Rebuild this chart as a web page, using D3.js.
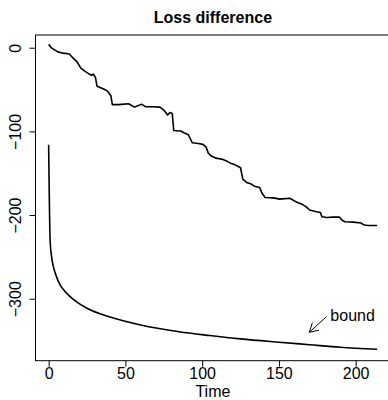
<!DOCTYPE html>
<html>
<head>
<meta charset="utf-8">
<script src="https://cdn.jsdelivr.net/npm/d3@7"></script>
<style>
body { margin: 0; background: #fff; }
svg { display: block; }
text { font-family: "Liberation Sans", Arial, sans-serif; }
</style>
</head>
<body>
<svg id="chart" width="388" height="400"></svg>
<script>
/*global d3*/

// values
var lossTime = [0, 2, 6, 9.5, 13.5, 16, 18.5, 21, 23.5, 26.5, 28, 29, 30.5, 31.5, 35.5, 38, 40.5, 41.5, 45.5, 52, 56, 60.5, 63, 68, 72.5, 75, 77.5, 79, 80.5, 81.5, 86, 88.5, 91, 93.5, 97.5, 100.5, 102.5, 104, 106, 109, 113.5, 116, 118.5, 121.5, 125, 126.5, 129, 132, 134, 137.5, 139, 141, 146.5, 150.5, 157, 161, 165, 168, 170, 174.5, 177, 178, 181, 185.5, 189.5, 191, 193, 198.5, 203.5, 205, 208, 211.5, 214]
var lossValue = [4, -0.5, -5, -6.5, -7.5, -12.5, -17, -24.5, -28, -31.5, -33, -31.5, -35.5, -46, -49, -51.5, -57, -68, -68, -67, -71, -67.5, -70.5, -70.5, -71, -74.5, -80.5, -77.5, -78.5, -99, -99.5, -102, -104, -113.5, -114.5, -115.5, -118.5, -126, -129.5, -132, -133.5, -135.5, -138, -140, -143.5, -157, -161, -163, -165.5, -167, -174, -179, -179.5, -181, -180, -184, -187, -190.5, -194, -196, -197, -202, -203, -202.5, -202.5, -206, -208, -208.5, -209.5, -211.5, -212.5, -212.5, -212.5]

var boundTime = [0, 1, 2, 3, 5, 7, 10, 14, 18, 25, 40, 60, 85, 105, 125, 150, 170, 190, 214]
var boundValue = [-116, -232, -251, -261, -273, -282, -290, -297.5, -303.5, -311.5, -322, -331.5, -339.5, -344, -348, -352, -355, -358, -360.5]

var xTicks = [0, 50, 100, 150, 200]
var yTicks = [0, -100, -200, -300]

var svg = d3.select("#chart")

var plotLeft = 35.5, plotRight = 390.3, plotTop = 35, plotBottom = 360.7

var x = d3.scaleLinear().domain([-8.56, 222.56]).range([plotLeft, plotRight])
var y = d3.scaleLinear().domain([15.2, -374.1]).range([plotTop, plotBottom])

// title
svg.append("text").attr("x", (plotLeft + plotRight) / 2).attr("y", 23)
  .attr("text-anchor", "middle").style("font-size", "16px").style("font-weight", "bold")
  .text("Loss difference")

// x axis
var gx = svg.append("g").attr("transform", "translate(0," + plotBottom + ")")
  .call(d3.axisBottom(x).tickValues(xTicks).tickSize(6).tickPadding(1).tickSizeOuter(0))
gx.select(".domain").remove()
gx.selectAll("text").style("font-size", "16px").attr("font-family", null)

// y axis, labels turned like R does
var gy = svg.append("g").attr("transform", "translate(" + plotLeft + ",0)")
  .call(d3.axisLeft(y).tickValues(yTicks).tickSize(6).tickSizeOuter(0))
gy.select(".domain").remove()
gy.selectAll("text")
  .attr("transform", "rotate(-90)")
  .attr("x", 0).attr("y", -15).attr("dy", 0)
  .attr("text-anchor", "middle")
  .style("font-size", "16px").attr("font-family", null)

svg.append("text").attr("x", (plotLeft + plotRight) / 2).attr("y", 397)
  .attr("text-anchor", "middle").style("font-size", "16px").text("Time")

// box
svg.append("rect").attr("x", plotLeft).attr("y", plotTop)
  .attr("width", plotRight - plotLeft).attr("height", plotBottom - plotTop)
  .attr("fill", "none").attr("stroke", "#000").attr("stroke-width", 1)

// lines
var lossLine = d3.line().x(function(d, i) { return x(lossTime[i]) }).y(function(d) { return y(d) })
svg.append("path").datum(lossValue).attr("d", lossLine)
  .attr("fill", "none").attr("stroke", "#000").attr("stroke-width", 1.6).attr("stroke-linejoin", "round")

var boundLine = d3.line().curve(d3.curveMonotoneX)
  .x(function(d, i) { return x(boundTime[i]) }).y(function(d) { return y(d) })
svg.append("path").datum(boundValue).attr("d", boundLine)
  .attr("fill", "none").attr("stroke", "#000").attr("stroke-width", 1.6)

// arrow + label
var x0 = x(181), y0 = y(-321.5), x1 = x(169.8), y1 = y(-340.1)
svg.append("line").attr("x1", x0).attr("y1", y0).attr("x2", x1).attr("y2", y1)
  .attr("stroke", "#000").attr("stroke-width", 1)
var ang = Math.atan2(y0 - y1, x0 - x1), len = 10, spread = Math.PI / 6
;[ang - spread, ang + spread].forEach(function(a) {
  svg.append("line").attr("x1", x1).attr("y1", y1)
    .attr("x2", x1 + len * Math.cos(a)).attr("y2", y1 + len * Math.sin(a))
    .attr("stroke", "#000").attr("stroke-width", 1)
})
svg.append("text").attr("x", x(183.5)).attr("y", y(-319.5)).attr("dy", "0.35em")
  .style("font-size", "16px").text("bound")
</script>
</body>
</html>
